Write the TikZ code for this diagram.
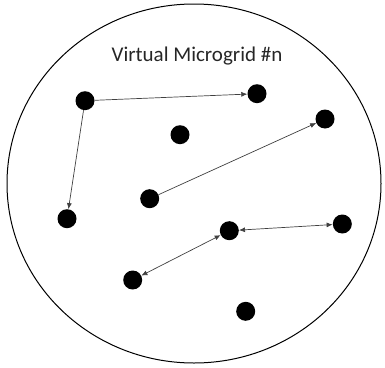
\documentclass[tikz,border=0pt]{standalone}
\usepackage{fontspec}
\setmainfont{Carlito}
\usetikzlibrary{arrows.meta}
\begin{document}
\begin{tikzpicture}[x=1pt,y=-1pt,
  dev/.style={circle,fill=black,inner sep=0pt,minimum size=19pt},
  link/.style={line width=0.7pt,draw=black!75,-{Latex[length=6pt,width=5pt]}},
  dlink/.style={line width=0.7pt,draw=black!75,{Latex[length=6pt,width=5pt]}-{Latex[length=6pt,width=5pt]}}]
\useasboundingbox (0,0) rectangle (385,367);
% microgrid boundary
\draw[line width=1pt] (194,183.5) ellipse [x radius=187, y radius=179.5];
\node[text=black!85] (title) at (197,56.5) {\fontsize{21pt}{24pt}\selectfont Virtual Microgrid \#n};
% devices
\node[dev] (a) at (85,100.7) {};
\node[dev] (b) at (257,93.7) {};
\node[dev] (c) at (180,134.7) {};
\node[dev] (d) at (325,119) {};
\node[dev] (e) at (149.7,198.7) {};
\node[dev] (f) at (67,218.7) {};
\node[dev] (g) at (229.3,230.7) {};
\node[dev] (h) at (342.3,224) {};
\node[dev] (i) at (132.7,280) {};
\node[dev] (j) at (245.7,311.3) {};
% links
\draw[link] (a) -- (b);
\draw[link] (a) -- (f);
\draw[link] (e) -- (d);
\draw[dlink] (g) -- (h);
\draw[dlink] (g) -- (i);
\end{tikzpicture}
\end{document}
